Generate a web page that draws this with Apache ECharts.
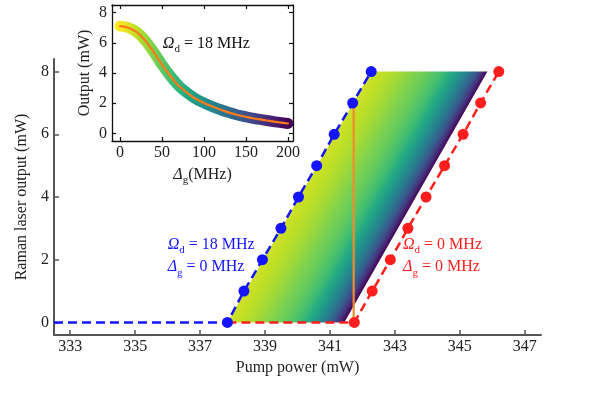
<!DOCTYPE html>
<html><head><meta charset="utf-8">
<script src="https://cdn.jsdelivr.net/npm/echarts@6/dist/echarts.min.js"></script>
<style>html,body{margin:0;padding:0;background:#fff}#c{width:600px;height:400px}</style>
</head><body><div id="c"></div>
<script>
// ---------- data ----------
const mainXTicks = [333, 335, 337, 339, 341, 343, 345, 347];
const mainYTicks = [0, 2, 4, 6, 8];
const insetXTicks = [0, 50, 100, 150, 200];
const insetYTicks = [0, 2, 4, 6, 8];

// Ω_d = 18 MHz, Δ_g = 0 MHz
const bluePump = [337.84, 338.35, 338.92, 339.49, 340.03, 340.59, 341.13, 341.70, 342.27];
const blueOut  = [0, 1, 2, 3, 4, 5, 6, 7, 8];
// Ω_d = 0 MHz, Δ_g = 0 MHz
const redPump = [341.75, 342.30, 342.86, 343.40, 343.96, 344.53, 345.10, 345.64, 346.20];
const redOut  = [0, 1, 2, 3, 4, 5, 6, 7, 8];
// zero-output lead line start
const blueZeroStart = 332.5;
// right edge of the shaded family (Δ_g = 200 MHz)
const fillRightPump = [341.44, 345.85];
const fillRightOut  = [0, 8];
// orange cut at fixed pump power
const orangePump = [341.73, 341.73];
const orangeOut  = [0, 7];

// inset: output vs Δ_g at Ω_d = 18 MHz
const insetDetuning = [0,10,20,30,40,50,60,70,80,90,100,110,120,130,140,150,160,170,180,190,200];
const insetOutput   = [7.1,7.0,6.7,6.15,5.4,4.55,3.8,3.15,2.68,2.3,2.02,1.78,1.57,1.38,1.22,1.1,0.99,0.9,0.81,0.73,0.66];

// ---------- styles ----------
const FONT = 'Liberation Serif';
const viridis = ['#440154','#482475','#414487','#355f8d','#2a788e','#21918c','#22a884','#44bf70','#7ad151','#bddf26','#fde725'];
function hex2rgb(h){return [parseInt(h.substr(1,2),16),parseInt(h.substr(3,2),16),parseInt(h.substr(5,2),16)];}
function viridisAt(t){
  t = Math.max(0, Math.min(1, t));
  const p = t * (viridis.length - 1), i = Math.min(Math.floor(p), viridis.length - 2), f = p - i;
  const a = hex2rgb(viridis[i]), b = hex2rgb(viridis[i+1]);
  return 'rgb(' + a.map((v,k)=>Math.round(v + (b[k]-v)*f)).join(',') + ')';
}
// gradient across the shaded band: [fraction across band, colormap position]
const fillGradient = [[0,0.93],[0.12,0.9],[0.25,0.86],[0.4,0.8],[0.5,0.76],[0.6,0.7],[0.7,0.6],
                      [0.75,0.53],[0.8,0.46],[0.85,0.38],[0.9,0.28],[0.95,0.15],[1,0.0]];
const fillStops = fillGradient.map(s=>({offset:s[0], color:viridisAt(s[1])}));
const dMax = 200;

const zip = (a,b)=>a.map((v,i)=>[v,b[i]]);
const BLUE = '#1414ff', RED = '#ff1e1e', ORANGE = '#f28b2c';

const chart = echarts.init(document.getElementById('c'), null, {renderer:'canvas'});

const mainAxisLine = {show:true, onZero:false, lineStyle:{color:'#555', width:2}};
const insetAxisLine = {show:true, onZero:false, lineStyle:{color:'#111', width:1.3}};
const lab = (vals)=>({customValues:vals, fontFamily:FONT, fontSize:16, color:'#222'});

const option = {
  animation:false,
  grid:[
    {left:54, right:59, top:59, bottom:65},
    {left:112, right:307, top:5, bottom:259}
  ],
  xAxis:[
    {gridIndex:0, type:'value', min:332.5, max:347.5, axisLine:mainAxisLine,
     axisTick:{inside:true, length:5, customValues:mainXTicks, lineStyle:{color:'#555', width:1.5}},
     axisLabel:Object.assign(lab(mainXTicks),{margin:4}), splitLine:{show:false},
     name:'Pump power (mW)', nameLocation:'middle', nameGap:25,
     nameTextStyle:{fontFamily:FONT, fontSize:16, color:'#222'}},
    {gridIndex:1, type:'value', min:-9.5, max:206, axisLine:insetAxisLine,
     axisTick:{inside:true, length:4, customValues:insetXTicks, lineStyle:{color:'#111', width:1.2}},
     axisLabel:Object.assign(lab(insetXTicks),{margin:4}), splitLine:{show:false},
     name:'{i|Δ}{s|g}(MHz)', nameLocation:'middle', nameGap:23,
     nameTextStyle:{fontFamily:FONT, fontSize:16, color:'#222', rich:{
       i:{fontFamily:FONT, fontStyle:'italic', fontSize:16, color:'#222', lineHeight:22},
       s:{fontFamily:FONT, fontSize:11, color:'#222', verticalAlign:'bottom', lineHeight:11}}}},
    {gridIndex:1, type:'value', position:'top', min:-9.5, max:206, axisLine:insetAxisLine,
     axisTick:{inside:true, length:4, customValues:insetXTicks, lineStyle:{color:'#111', width:1.2}},
     axisLabel:{show:false}, splitLine:{show:false}}
  ],
  yAxis:[
    {gridIndex:0, type:'value', min:-0.4, max:8.4, axisLine:mainAxisLine,
     axisTick:{inside:true, length:5, customValues:mainYTicks, lineStyle:{color:'#555', width:1.5}},
     axisLabel:Object.assign(lab(mainYTicks),{margin:5}), splitLine:{show:false},
     name:'Raman laser output (mW)', nameLocation:'middle', nameGap:20,
     nameTextStyle:{fontFamily:FONT, fontSize:16, color:'#222'}},
    {gridIndex:1, type:'value', min:-0.5, max:8.5, axisLine:insetAxisLine,
     axisTick:{inside:true, length:4, customValues:insetYTicks, lineStyle:{color:'#111', width:1.2}},
     axisLabel:Object.assign(lab(insetYTicks),{margin:5}), splitLine:{show:false},
     name:'Output (mW)', nameLocation:'middle', nameGap:19,
     nameTextStyle:{fontFamily:FONT, fontSize:16, color:'#222'}},
    {gridIndex:1, type:'value', position:'right', min:-0.5, max:8.5, axisLine:insetAxisLine,
     axisTick:{inside:true, length:4, customValues:insetYTicks, lineStyle:{color:'#111', width:1.2}},
     axisLabel:{show:false}, splitLine:{show:false}}
  ],
  visualMap:[{type:'continuous', show:false, seriesIndex:6, dimension:0, min:0, max:dMax,
    inRange:{color:viridis.slice().reverse()}}],
  series:[
    // 0: shaded family of Δ_g lines
    {type:'custom', xAxisIndex:0, yAxisIndex:0, silent:true, z:1, data:[[bluePump[0], blueOut[0]]],
     renderItem:function(params, api){
       const n = bluePump.length - 1;
       const lb = api.coord([bluePump[0], blueOut[0]]);
       const lt = api.coord([bluePump[n], blueOut[n]]);
       const rt = api.coord([fillRightPump[1], fillRightOut[1]]);
       const rb = api.coord([fillRightPump[0], fillRightOut[0]]);
       let dx = lt[0]-lb[0], dy = lt[1]-lb[1]; const L = Math.hypot(dx,dy); dx/=L; dy/=L;
       let nx = -dy, ny = dx;
       let proj = (rb[0]-lb[0])*nx + (rb[1]-lb[1])*ny;
       if (proj < 0) { nx=-nx; ny=-ny; proj=-proj; }
       const grad = new echarts.graphic.LinearGradient(lb[0], lb[1], lb[0]+nx*proj, lb[1]+ny*proj, fillStops, true);
       return {type:'polygon', shape:{points:[lb,lt,rt,rb]}, style:{fill:grad, stroke:null}};
     }},
    // 1: orange vertical cut
    {type:'line', xAxisIndex:0, yAxisIndex:0, z:3, data:zip(orangePump, orangeOut), showSymbol:false, silent:true,
     lineStyle:{color:ORANGE, width:2.2}},
    // 2: red dashed
    {type:'line', xAxisIndex:0, yAxisIndex:0, z:4, silent:true, showSymbol:false,
     data:[[bluePump[0], 0]].concat(zip(redPump, redOut)),
     lineStyle:{color:RED, width:2.5, type:[9,5]}},
    // 3: blue dashed
    {type:'line', xAxisIndex:0, yAxisIndex:0, z:4, silent:true, showSymbol:false,
     data:[[blueZeroStart, 0]].concat(zip(bluePump, blueOut)),
     lineStyle:{color:BLUE, width:2.5, type:[9,5]}},
    // 4: red dots
    {type:'scatter', xAxisIndex:0, yAxisIndex:0, z:5, silent:true, symbolSize:11,
     data:zip(redPump, redOut), itemStyle:{color:RED, opacity:1}},
    // 5: blue dots
    {type:'scatter', xAxisIndex:0, yAxisIndex:0, z:5, silent:true, symbolSize:11,
     data:zip(bluePump, blueOut), itemStyle:{color:BLUE, opacity:1}},
    // 6: inset thick viridis curve
    {type:'line', xAxisIndex:1, yAxisIndex:1, z:3, silent:true, showSymbol:false, smooth:0.3,
     data:zip(insetDetuning, insetOutput),
     lineStyle:{width:11, cap:'round', join:'round'}},
    // 7: inset orange curve
    {type:'line', xAxisIndex:1, yAxisIndex:1, z:4, silent:true, showSymbol:false, smooth:0.3,
     data:zip(insetDetuning, insetOutput),
     lineStyle:{width:2.2, color:'#ff7a1a', cap:'round'}}
  ]
};
chart.setOption(option);

// ---------- annotations ----------
const annMain = [
  {at:[336.0, 2.49], text:'{i|Ω}{s|d} = 18 MHz', color:BLUE},
  {at:[336.0, 1.76], text:'{i|Δ}{s|g} = 0 MHz', color:BLUE},
  {at:[343.25, 2.49], text:'{i|Ω}{s|d} = 0 MHz', color:RED},
  {at:[343.25, 1.76], text:'{i|Δ}{s|g} = 0 MHz', color:RED}
];
const annInset = [{at:[51, 5.92], text:'{i|Ω}{s|d} = 18 MHz', color:'#111'}];
function mk(a, idx){
  const p = chart.convertToPixel({xAxisIndex:idx, yAxisIndex:idx}, a.at);
  return {type:'text', x:p[0], y:p[1], z:100, silent:true, style:{
    text:a.text, fill:a.color, font:'16px ' + FONT, textAlign:'left', textVerticalAlign:'middle',
    rich:{
      n:{fontFamily:FONT, fontSize:16, fill:a.color, lineHeight:22},
      i:{fontFamily:FONT, fontStyle:'italic', fontSize:16, fill:a.color, lineHeight:22},
      s:{fontFamily:FONT, fontSize:11, fill:a.color, verticalAlign:'bottom', lineHeight:11}
    }}};
}
chart.setOption({graphic:annMain.map(a=>mk(a,0)).concat(annInset.map(a=>mk(a,1)))});
</script></body></html>
